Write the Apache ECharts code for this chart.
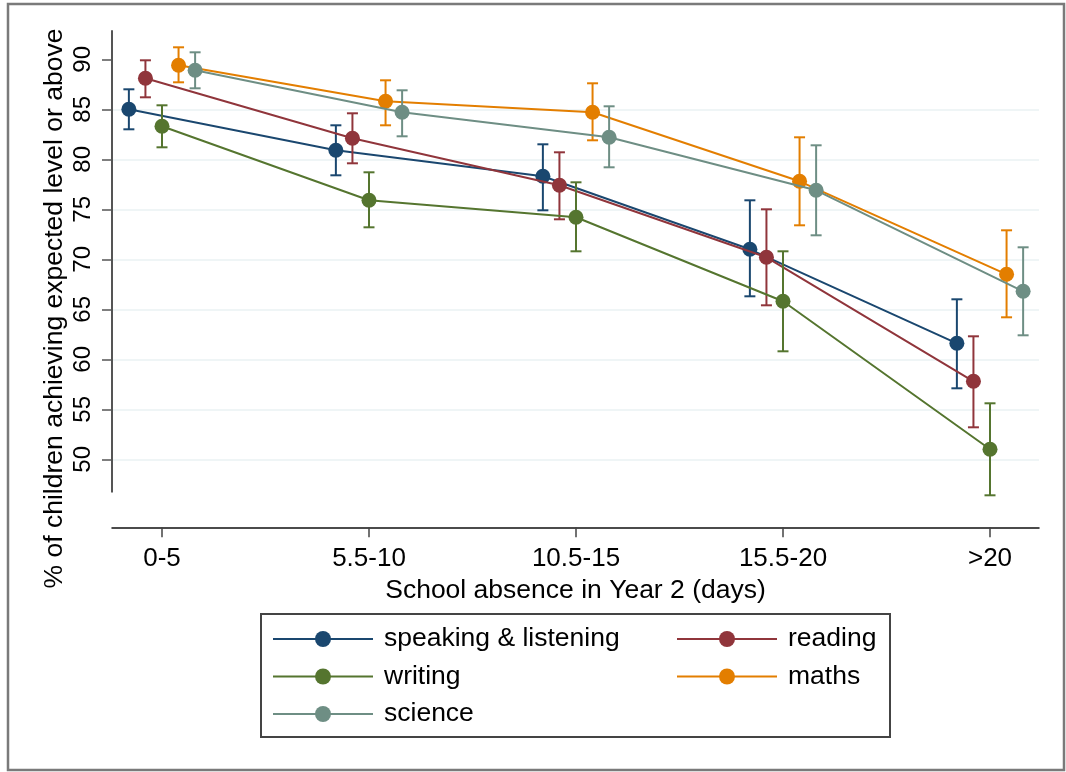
<!DOCTYPE html>
<html><head><meta charset="utf-8">
<script src="https://cdn.jsdelivr.net/npm/echarts@6/dist/echarts.min.js"></script>
<style>html,body{margin:0;padding:0;background:#fff}#c{width:1066px;height:772px}</style>
</head><body><div id="c"></div>
<script>
// ---- data ----
const categories = ['0-5', '5.5-10', '10.5-15', '15.5-20', '>20'];
const seriesNames = ['speaking & listening', 'reading', 'writing', 'maths', 'science'];
const speaking     = [85.0, 80.9, 78.3, 71.0, 61.6];
const speakingLow  = [83.0, 78.4, 74.9, 66.3, 57.1];
const speakingHigh = [87.0, 83.4, 81.5, 75.9, 66.0];
const reading      = [88.1, 82.1, 77.4, 70.2, 57.8];
const readingLow   = [86.2, 79.6, 74.0, 65.4, 53.2];
const readingHigh  = [89.9, 84.6, 80.7, 75.0, 62.3];
const writing      = [83.3, 75.9, 74.2, 65.8, 51.0];
const writingLow   = [81.2, 73.2, 70.8, 60.8, 46.4];
const writingHigh  = [85.4, 78.7, 77.7, 70.8, 55.6];
const maths        = [89.4, 85.8, 84.7, 77.8, 68.5];
const mathsLow     = [87.7, 83.4, 81.9, 73.4, 64.2];
const mathsHigh    = [91.2, 87.9, 87.6, 82.2, 72.9];
const science      = [88.9, 84.7, 82.2, 76.9, 66.8];
const scienceLow   = [87.1, 82.3, 79.2, 72.4, 62.4];
const scienceHigh  = [90.7, 86.9, 85.3, 81.4, 71.2];
const yTicks = [50, 55, 60, 65, 70, 75, 80, 85, 90];
const yTitle = '% of children achieving expected level or above';
const xTitle = 'School absence in Year 2 (days)';

// ---- styling / layout ----
const FONT = 'Liberation Sans, Arial, sans-serif';
const colors = ['#1a476f', '#90353b', '#55752f', '#e37e00', '#6e8e84'];
const dodge = [-0.16, -0.08, 0, 0.08, 0.16];
const values = [speaking, reading, writing, maths, science];
const lows = [speakingLow, readingLow, writingLow, mathsLow, scienceLow];
const highs = [speakingHigh, readingHigh, writingHigh, mathsHigh, scienceHigh];

function errRender(color) {
  return function (params, api) {
    const x = api.value(0), lo = api.value(1), hi = api.value(2);
    const p1 = api.coord([x, hi]), p2 = api.coord([x, lo]);
    const w = 5.5;
    const st = { stroke: color, lineWidth: 2 };
    return { type: 'group', children: [
      { type: 'line', shape: { x1: p1[0], y1: p1[1], x2: p2[0], y2: p2[1] }, style: st },
      { type: 'line', shape: { x1: p1[0] - w, y1: p1[1], x2: p1[0] + w, y2: p1[1] }, style: st },
      { type: 'line', shape: { x1: p2[0] - w, y1: p2[1], x2: p2[0] + w, y2: p2[1] }, style: st }
    ]};
  };
}

const series = [];
seriesNames.forEach((name, s) => {
  series.push({
    type: 'custom', name: name + ' CI', z: 2 + s * 2,
    renderItem: errRender(colors[s]),
    encode: { x: 0, y: [1, 2] },
    data: categories.map((c, i) => [i + dodge[s], lows[s][i], highs[s][i]]),
    silent: true
  });
  series.push({
    type: 'line', name: name, z: 3 + s * 2,
    symbol: 'circle', symbolSize: 15, showSymbol: true,
    lineStyle: { width: 2, color: colors[s] },
    itemStyle: { color: colors[s] },
    data: categories.map((c, i) => [i + dodge[s], values[s][i]])
  });
});

const legendCommon = {
  orient: 'vertical', itemWidth: 100, itemHeight: 20, itemGap: 10.5, padding: 0,
  selectedMode: false, top: 625.5,
  textStyle: { fontSize: 26.5, color: '#000', fontFamily: FONT, padding: [0, 0, 0, 6] }
};

const chart = echarts.init(document.getElementById('c'), null, { renderer: 'canvas' });
chart.setOption({
  animation: false,
  backgroundColor: '#fff',
  textStyle: { fontFamily: FONT },
  grid: { left: 112, right: 27, top: 31, height: 478.3 },
  xAxis: {
    type: 'value', min: -0.2415, max: 4.2367, offset: 18,
    name: xTitle, nameLocation: 'middle', nameGap: 38,
    nameTextStyle: { fontSize: 26.5, color: '#000', fontFamily: FONT },
    axisLine: { show: true, onZero: false, lineStyle: { color: '#111', width: 1.5 } },
    axisTick: { show: true, length: 10, customValues: [0, 1, 2, 3, 4], lineStyle: { color: '#444', width: 1.5 } },
    axisLabel: { customValues: [0, 1, 2, 3, 4], margin: 19, fontSize: 26, color: '#000', fontFamily: FONT,
      formatter: v => categories[Math.round(v)] },
    splitLine: { show: false }
  },
  yAxis: {
    type: 'value', min: 45, max: 92.83, interval: 5,
    axisLine: { show: true, onZero: false, lineStyle: { color: '#555', width: 2 } },
    axisTick: { show: true, length: 10, customValues: yTicks, lineStyle: { color: '#555', width: 1.5 } },
    axisLabel: { customValues: yTicks, rotate: 90, margin: 17, fontSize: 24, color: '#000', fontFamily: FONT },
    splitLine: { show: true, showMaxLine: false, showMinLine: true, lineStyle: { color: '#eaf2f3', width: 1.5 } }
  },
  legend: [
    Object.assign({}, legendCommon, { left: 272, data: ['speaking & listening', 'writing', 'science'] }),
    Object.assign({}, legendCommon, { left: 676, data: ['reading', 'maths'] })
  ],
  graphic: [
    { type: 'rect', z: 100, shape: { x: 98, y: 492.5, width: 53, height: 31.5 }, style: { fill: '#fff' }, silent: true },
    { type: 'rect', z: 100, shape: { x: 261, y: 614, width: 629, height: 123 }, style: { fill: 'none', stroke: '#444', lineWidth: 2 }, silent: true },
    { type: 'rect', z: 100, shape: { x: 8, y: 4, width: 1056, height: 766 }, style: { fill: 'none', stroke: '#7a7a7a', lineWidth: 2.5 }, silent: true },
    { type: 'text', z: 100, x: 55, y: 308.5, rotation: Math.PI / 2,
      style: { text: yTitle, fontSize: 26.5, fontFamily: FONT, fill: '#000', align: 'center', verticalAlign: 'middle' }, silent: true }
  ],
  series: series
});
</script>
</body></html>
